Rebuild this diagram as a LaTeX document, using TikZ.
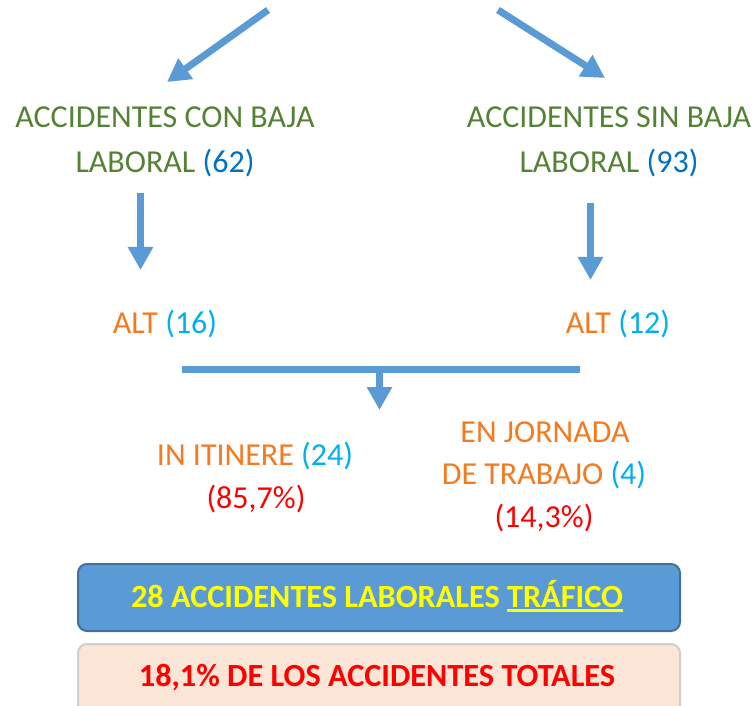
\documentclass[tikz,border=0pt]{standalone}
\usepackage{fontspec}
\setmainfont{Carlito}
\newcommand{\thickul}[1]{\setbox0\hbox{#1}\rlap{\rule[-4.5pt]{\wd0}{2.2pt}}\box0}
\usetikzlibrary{arrows.meta}
\definecolor{arrblue}{HTML}{5B9BD5}
\definecolor{boxedge}{HTML}{41719C}
\definecolor{tgreen}{HTML}{548235}
\definecolor{tdblue}{HTML}{0070C0}
\definecolor{tlblue}{HTML}{00B0F0}
\definecolor{torange}{HTML}{F47A1F}
\definecolor{tred}{HTML}{FF0000}
\definecolor{tyellow}{HTML}{FFFF00}
\definecolor{peach}{HTML}{FBE5D6}
\definecolor{peachedge}{HTML}{D0CECE}
\begin{document}
\begin{tikzpicture}[x=1pt,y=-1pt,
  lbl/.style={anchor=base,inner sep=0pt,font=\fontsize{32}{38}\selectfont},
  blbl/.style={anchor=base,inner sep=0pt,font=\fontsize{32.3}{38}\selectfont\bfseries},
  bigarrow/.style={draw=arrblue,line width=7pt,-{Triangle[length=23pt,width=24pt]}},
  barline/.style={draw=arrblue,line width=7pt},
  panel/.style={rounded corners=9pt,line width=2pt}]
\useasboundingbox (0,0) rectangle (756,706);
% top free arrows
\coordinate (s1) at (268,10);
\coordinate (e1) at (167,82);
\coordinate (s2) at (498,10);
\coordinate (e2) at (605,78);
\draw[bigarrow] (s1) -- (e1);
\draw[bigarrow] (s2) -- (e2);
% labels
\node[lbl,text=tgreen] (cb1) at (165,128) {ACCIDENTES CON BAJA};
\node[lbl,text=tgreen] (cb2) at (165,173) {LABORAL \textcolor{tdblue}{(62)}};
\node[lbl,text=tgreen] (sb1) at (609,128) {ACCIDENTES SIN BAJA};
\node[lbl,text=tgreen] (sb2) at (609,173) {LABORAL \textcolor{tdblue}{(93)}};
\node[lbl,text=torange] (alt1) at (165,333) {ALT \textcolor{tlblue}{(16)}};
\node[lbl,text=torange] (alt2) at (618,333) {ALT \textcolor{tlblue}{(12)}};
\node[lbl,text=torange] (iti) at (255,465) {IN ITINERE \textcolor{tlblue}{(24)}};
\node[lbl,text=tred] (itip) at (256,508) {(85,7\%)};
\node[lbl,text=torange] (jor1) at (545,442) {EN JORNADA};
\node[lbl,text=torange] (jor2) at (544,484) {DE TRABAJO \textcolor{tlblue}{(4)}};
\node[lbl,text=tred] (jorp) at (544,527) {(14,3\%)};
% vertical arrows
\coordinate (d1s) at (140.5,193);
\coordinate (d1e) at (140.5,270);
\coordinate (d2s) at (590.5,203);
\coordinate (d2e) at (590.5,280);
\draw[bigarrow] (d1s) -- (d1e);
\draw[bigarrow] (d2s) -- (d2e);
% merge bar
\coordinate (bl) at (182,369.5);
\coordinate (br) at (580,369.5);
\coordinate (bm) at (379.5,369.5);
\coordinate (bt) at (379.5,410);
\draw[barline] (bl) -- (br);
\draw[bigarrow] (bm) -- (bt);
% boxes
\node[panel,draw=boxedge,fill=arrblue,minimum width=602pt,minimum height=67pt,anchor=north west] (box1) at (77,563) {};
\node[blbl,text=tyellow] (t1) at (377,607) {28 ACCIDENTES LABORALES \thickul{TRÁFICO}};
\node[panel,draw=peachedge,fill=peach,minimum width=602pt,minimum height=80pt,anchor=north west] (box2) at (77,643) {};
\node[blbl,text=tred] (t2) at (377,686) {18,1\% DE LOS ACCIDENTES TOTALES};
\end{tikzpicture}
\end{document}
